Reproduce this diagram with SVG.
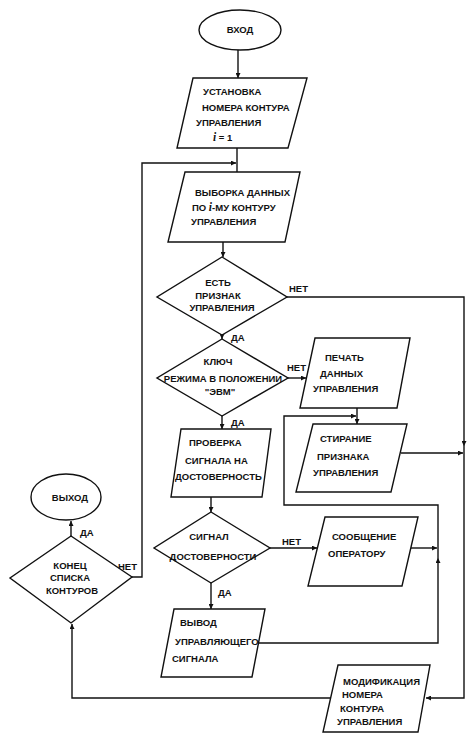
<svg xmlns="http://www.w3.org/2000/svg" width="472" height="735" viewBox="0 0 472 735">
<style>
.s{fill:#fff;stroke:#111;stroke-width:1.4}
.c{fill:none;stroke:#111;stroke-width:1.4}
text{font-family:"Liberation Sans",Arial,sans-serif;font-size:9.5px;font-weight:bold;fill:#111}
.m{text-anchor:middle}
.i{font-family:"Liberation Serif","Times New Roman",serif;font-style:italic;font-size:11.5px}
</style>
<defs>
<marker id="a" viewBox="0 0 10 10" refX="10" refY="5" markerWidth="7" markerHeight="5" markerUnits="userSpaceOnUse" orient="auto"><path d="M0,0 L10,5 L0,10 z" fill="#111"/></marker>
</defs>
<rect width="472" height="735" fill="#fff"/>

<g id="connectors">
<path class="c" d="M238,50 V78" marker-end="url(#a)"/>
<path class="c" d="M237,148 V172"/>
<path class="c" d="M132,577 H142 V163 H236" marker-end="url(#a)"/>
<path class="c" d="M223,242 V257" marker-end="url(#a)"/>
<path class="c" d="M287,297 H464 V446" marker-end="url(#a)"/>
<path class="c" d="M464,446 V698 H426" marker-end="url(#a)"/>
<path class="c" d="M222,334 V339" marker-end="url(#a)"/>
<path class="c" d="M288,378 H306" marker-end="url(#a)"/>
<path class="c" d="M357,408 V424" marker-end="url(#a)"/>
<path class="c" d="M258,643 H438 V558" marker-end="url(#a)"/>
<path class="c" d="M438,558 V505 H284 V416 H356" marker-end="url(#a)"/>
<path class="c" d="M401,453 H463" marker-end="url(#a)"/>
<path class="c" d="M222,416 V429" marker-end="url(#a)"/>
<path class="c" d="M211,497 V512" marker-end="url(#a)"/>
<path class="c" d="M270,548 H317" marker-end="url(#a)"/>
<path class="c" d="M411,548 H437" marker-end="url(#a)"/>
<path class="c" d="M211,583 V609" marker-end="url(#a)"/>
<path class="c" d="M331,698 H72 V624" marker-end="url(#a)"/>
<path class="c" d="M71,536 V521" marker-end="url(#a)"/>
<text x="289" y="292">НЕТ</text>
<text x="231" y="341">ДА</text>
<text x="287" y="371">НЕТ</text>
<text x="231" y="426">ДА</text>
<text x="282" y="545">НЕТ</text>
<text x="218" y="596">ДА</text>
<text x="80" y="536">ДА</text>
<text x="118" y="570">НЕТ</text>
</g>

<g id="vhod">
<ellipse class="s" cx="240" cy="30" rx="41" ry="20"/>
<text class="m" x="240" y="33">ВХОД</text>
</g>

<g id="ustanovka">
<polygon class="s" points="193,78 307,78 288,148 177,148"/>
<text x="203" y="95">УСТАНОВКА</text>
<text x="202" y="111">НОМЕРА КОНТУРА</text>
<text x="196" y="126">УПРАВЛЕНИЯ</text>
<text x="213" y="141"><tspan class="i">i</tspan> = 1</text>
</g>

<g id="vyborka">
<polygon class="s" points="185,172 300,172 285,242 168,242"/>
<text x="195" y="196">ВЫБОРКА ДАННЫХ</text>
<text x="192" y="211">ПО <tspan class="i">i</tspan>-МУ КОНТУРУ</text>
<text x="191" y="225">УПРАВЛЕНИЯ</text>
</g>

<g id="priznak">
<polygon class="s" points="222,257 287,297 222,335 157,297"/>
<text class="m" x="218" y="286">ЕСТЬ</text>
<text class="m" x="218" y="299">ПРИЗНАК</text>
<text class="m" x="222" y="311">УПРАВЛЕНИЯ</text>
</g>

<g id="klyuch">
<polygon class="s" points="222,339 288,378 222,416 157,378"/>
<text class="m" x="218" y="365">КЛЮЧ</text>
<text class="m" x="223" y="382">РЕЖИМА В ПОЛОЖЕНИИ</text>
<text class="m" x="220" y="395">"ЭВМ"</text>
</g>

<g id="pechat">
<polygon class="s" points="315,338 410,338 397,408 300,408"/>
<text x="325" y="361">ПЕЧАТЬ</text>
<text x="320" y="377">ДАННЫХ</text>
<text x="313" y="392">УПРАВЛЕНИЯ</text>
</g>

<g id="stiranie">
<polygon class="s" points="313,424 407,424 391,492 296,492"/>
<text x="320" y="442">СТИРАНИЕ</text>
<text x="317" y="460">ПРИЗНАКА</text>
<text x="313" y="476">УПРАВЛЕНИЯ</text>
</g>

<g id="proverka">
<polygon class="s" points="181,429 271,429 262,497 171,497"/>
<text x="189" y="446">ПРОВЕРКА</text>
<text x="185" y="464">СИГНАЛА НА</text>
<text x="175" y="480">ДОСТОВЕРНОСТЬ</text>
</g>

<g id="signal">
<polygon class="s" points="211,512 270,548 211,583 154,548"/>
<text class="m" x="209" y="540">СИГНАЛ</text>
<text class="m" x="213" y="560">ДОСТОВЕРНОСТИ</text>
</g>

<g id="soobshchenie">
<polygon class="s" points="325,517 418,517 402,586 308,586"/>
<text x="332" y="540">СООБЩЕНИЕ</text>
<text x="328" y="557">ОПЕРАТОРУ</text>
</g>

<g id="vyvod">
<polygon class="s" points="174,609 265,609 252,677 161,677"/>
<text x="180" y="626">ВЫВОД</text>
<text x="175" y="645">УПРАВЛЯЮЩЕГО</text>
<text x="172" y="662">СИГНАЛА</text>
</g>

<g id="modifikatsiya">
<polygon class="s" points="338,665 430,665 418,732 323,732"/>
<text x="343" y="685">МОДИФИКАЦИЯ</text>
<text x="342" y="698">НОМЕРА</text>
<text x="340" y="712">КОНТУРА</text>
<text x="337" y="725">УПРАВЛЕНИЯ</text>
</g>

<g id="konets">
<polygon class="s" points="71,536 132,577 71,623 10,578"/>
<text class="m" x="70" y="569">КОНЕЦ</text>
<text class="m" x="70" y="581">СПИСКА</text>
<text class="m" x="72" y="594">КОНТУРОВ</text>
</g>

<g id="vyhod">
<ellipse class="s" cx="66" cy="497" rx="35" ry="23"/>
<text class="m" x="70" y="501">ВЫХОД</text>
</g>
</svg>
